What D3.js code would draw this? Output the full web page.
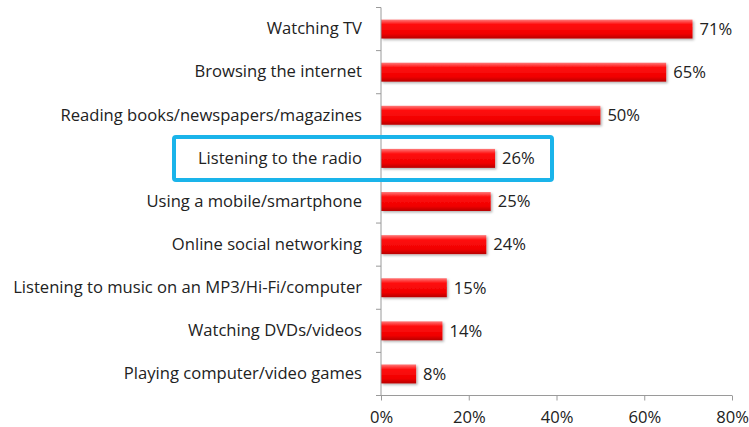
<!DOCTYPE html>
<html><head><meta charset="utf-8">
<script src="https://cdn.jsdelivr.net/npm/d3@7/dist/d3.min.js"></script>
<style>body{margin:0;background:#fff}text{font-family:"Open Sans",sans-serif}</style>
</head><body><svg id="c" width="749" height="427"></svg>
<script>
const categories = ["Watching TV","Browsing the internet","Reading books/newspapers/magazines","Listening to the radio","Using a mobile/smartphone","Online social networking","Listening to music on an MP3/Hi-Fi/computer","Watching DVDs/videos","Playing computer/video games"];
const values = [71,65,50,26,25,24,15,14,8];
const xTicks = [0,20,40,60,80];
const highlighted = "Listening to the radio";
const FONT = "'Open Sans',sans-serif";
const FS = 16.6;

const svg = d3.select("#c");
const x = d3.scaleLinear().domain([0,80]).range([381,732]);
const y = d3.scaleBand().domain(categories).range([7.5,395.5]).paddingInner(0.56).paddingOuter(0.28);

const defs = svg.append("defs");
const g = defs.append("linearGradient").attr("id","bar").attr("x1",0).attr("y1",0).attr("x2",0).attr("y2",1);
g.append("stop").attr("offset","0%").attr("stop-color","#ff7a7a");
g.append("stop").attr("offset","25%").attr("stop-color","#ff1010");
g.append("stop").attr("offset","75%").attr("stop-color","#f00000");
g.append("stop").attr("offset","100%").attr("stop-color","#b80000");
const f = defs.append("filter").attr("id","sh").attr("x","-10%").attr("y","-20%").attr("width","130%").attr("height","160%");
f.append("feDropShadow").attr("dx",1.5).attr("dy",1.5).attr("stdDeviation",1).attr("flood-color","#000").attr("flood-opacity",0.3);

svg.append("g").selectAll("rect").data(values).join("rect")
  .attr("x",x(0)).attr("y",(d,i)=>y(categories[i]))
  .attr("width",d=>x(d)-x(0)).attr("height",y.bandwidth())
  .attr("fill","url(#bar)").attr("filter","url(#sh)");

svg.append("g").selectAll("text").data(values).join("text")
  .attr("x",d=>x(d)+7).attr("y",(d,i)=>y(categories[i])+y.bandwidth()/2)
  .attr("dy","0.35em").attr("font-size",FS).attr("fill","#222").text(d=>d+"%");

const ya = svg.append("g").attr("transform",`translate(${x(0)},0)`).call(d3.axisLeft(y).tickSize(0).tickPadding(19));
ya.select(".domain").remove();
ya.selectAll("text").attr("font-size",FS).attr("fill","#222").style("font-family",FONT);
const bounds = d3.range(categories.length+1).map(i=>7.5+i*(388/categories.length));
svg.append("g").selectAll("line").data(bounds).join("line")
  .attr("x1",x(0)-5).attr("x2",x(0)).attr("y1",d=>d).attr("y2",d=>d).attr("stroke","#9a9a9a");
svg.append("line").attr("x1",x(0)).attr("x2",x(0)).attr("y1",7.5).attr("y2",395.5).attr("stroke","#9a9a9a");

const xa = svg.append("g").attr("transform","translate(0,395.5)")
  .call(d3.axisBottom(x).tickValues(xTicks).tickFormat(d=>d+"%").tickSize(5).tickPadding(11));
xa.select(".domain").attr("stroke","#9a9a9a").attr("d",`M${x(0)},0H${x(80)}`);
xa.selectAll("line").attr("stroke","#9a9a9a");
xa.selectAll("text").attr("font-size",FS).attr("fill","#222").style("font-family",FONT);

const hy = y(highlighted)+y.bandwidth()/2;
svg.append("rect").attr("x",174).attr("y",hy-21.5).attr("width",378).attr("height",43)
  .attr("rx",2).attr("fill","none").attr("stroke","#1ab4ea").attr("stroke-width",4);
</script></body></html>
